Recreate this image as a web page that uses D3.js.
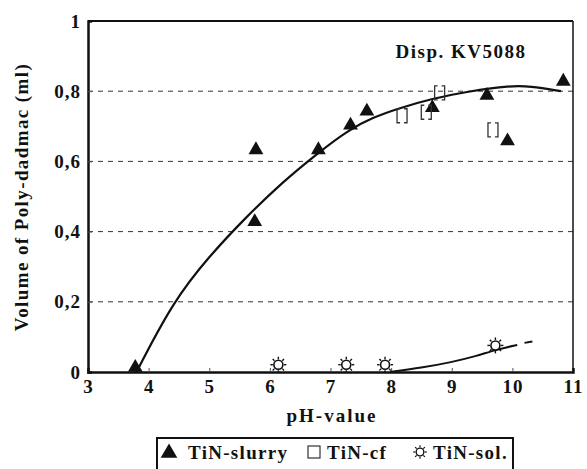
<!DOCTYPE html>
<html>
<head>
<meta charset="utf-8">
<script src="https://cdn.jsdelivr.net/npm/d3@7"></script>
<style>
  body { margin: 0; background: #fff; }
  text { font-family: "Liberation Serif", "Times New Roman", serif; font-weight: bold; fill: #111; }
</style>
</head>
<body>
<div id="chart"></div>
<script>
const width = 587, height = 469;
const margin = { top: 21, right: 14, bottom: 97, left: 88 };

// TiN-slurry (triangles)
const slurryPH  = [3.78, 5.77, 5.75, 6.8, 7.33, 7.6, 8.68, 9.58, 9.92, 10.84];
const slurryVol = [0.01, 0.63, 0.425, 0.63, 0.70, 0.74, 0.75, 0.785, 0.655, 0.825];
// TiN-cf (open squares)
const cfPH  = [8.18, 8.58, 8.8, 9.68];
const cfVol = [0.73, 0.74, 0.795, 0.69];
// TiN-sol. (sun symbols)
const solPH  = [6.14, 7.26, 7.9, 9.72];
const solVol = [0.015, 0.015, 0.015, 0.07];
// trend lines
const fitPH  = [3.8, 4.4, 5.0, 5.6, 6.2, 6.8, 7.3, 7.7, 8.1, 8.7, 9.3, 9.9, 10.3, 10.8];
const fitVol = [0.0, 0.2, 0.33, 0.44, 0.54, 0.625, 0.69, 0.725, 0.75, 0.78, 0.80, 0.815, 0.815, 0.80];
const solFitPH  = [7.98, 8.5, 9.0, 9.4, 9.72, 10.08];
const solFitVol = [0.0, 0.012, 0.028, 0.045, 0.063, 0.077];
const solDashPH  = [10.2, 10.33];
const solDashVol = [0.083, 0.087];

const xTicks = [3, 4, 5, 6, 7, 8, 9, 10, 11];
const yTicks = [0, 0.2, 0.4, 0.6, 0.8, 1];
const gridTicks = [0.2, 0.4, 0.6, 0.8];

const fmt = d => d3.format("")(d).replace(".", ",");

const svg = d3.select("#chart").append("svg")
  .attr("width", width).attr("height", height);

const x = d3.scaleLinear().domain([3, 11]).range([margin.left, width - margin.right]);
const y = d3.scaleLinear().domain([0, 1]).range([height - margin.bottom, margin.top]);

// dashed grid
svg.selectAll(".grid").data(gridTicks).join("line")
  .attr("x1", x(3)).attr("x2", x(11))
  .attr("y1", d => y(d)).attr("y2", d => y(d))
  .attr("stroke", "#333").attr("stroke-width", 1)
  .attr("stroke-dasharray", "5,5");

// frame
svg.append("line").attr("x1", x(3)).attr("x2", x(11)).attr("y1", y(1)).attr("y2", y(1))
  .attr("stroke", "#111").attr("stroke-width", 2);
svg.append("line").attr("x1", x(11)).attr("x2", x(11)).attr("y1", y(1)).attr("y2", y(0))
  .attr("stroke", "#111").attr("stroke-width", 1.5);

// axes
const xAxis = svg.append("g").attr("transform", `translate(0,${y(0)})`)
  .call(d3.axisBottom(x).tickValues(xTicks).tickSize(-4).tickPadding(8).tickFormat(d3.format("d")));
const yAxis = svg.append("g").attr("transform", `translate(${x(3)},0)`)
  .call(d3.axisLeft(y).tickValues(yTicks).tickSize(-4).tickPadding(7).tickFormat(fmt));
[xAxis, yAxis].forEach(g => {
  g.select(".domain").attr("stroke", "#111").attr("stroke-width", 2.5);
  g.selectAll(".tick line").attr("stroke", "#555");
  g.selectAll("text").attr("font-size", 19).attr("letter-spacing", 1)
    .attr("font-family", "Liberation Serif").attr("font-weight", "bold").attr("fill", "#111");
});
xAxis.selectAll(".tick").filter(d => d === 3 || d === 11).select("line").remove();
yAxis.selectAll(".tick").filter(d => d === 0 || d === 1).select("line").remove();

// trend lines
const line = d3.line().x(d => x(d[0])).y(d => y(d[1])).curve(d3.curveBasis);
svg.append("path").datum(d3.zip(fitPH, fitVol)).attr("d", line)
  .attr("fill", "none").attr("stroke", "#111").attr("stroke-width", 2.2);
svg.append("path").datum(d3.zip(solFitPH, solFitVol)).attr("d", line)
  .attr("fill", "none").attr("stroke", "#111").attr("stroke-width", 2);
svg.append("path").datum(d3.zip(solDashPH, solDashVol)).attr("d", line)
  .attr("fill", "none").attr("stroke", "#111").attr("stroke-width", 2);

// symbols
const tri = d3.symbol().type(d3.symbolTriangle).size(95);
svg.selectAll(".slurry").data(d3.zip(slurryPH, slurryVol)).join("path")
  .attr("class", "slurry")
  .attr("d", tri)
  .attr("transform", d => `translate(${x(d[0])},${y(d[1]) - 1})`)
  .attr("fill", "#111");

const bracket = "M-2,-7 H-5 V7 H-2 M2,-7 H5 V7 H2";
svg.selectAll(".cf").data(d3.zip(cfPH, cfVol)).join("path")
  .attr("class", "cf")
  .attr("d", bracket)
  .attr("transform", d => `translate(${x(d[0])},${y(d[1])})`)
  .attr("fill", "none").attr("stroke", "#333").attr("stroke-width", 1.3);

function sun(g) {
  g.append("circle").attr("r", 4.5).attr("fill", "#fff").attr("stroke", "#111").attr("stroke-width", 1.6);
  g.selectAll("line").data(d3.range(8)).join("line")
    .attr("x1", a => 5.5 * Math.cos(a * Math.PI / 4)).attr("y1", a => 5.5 * Math.sin(a * Math.PI / 4))
    .attr("x2", a => 8 * Math.cos(a * Math.PI / 4)).attr("y2", a => 8 * Math.sin(a * Math.PI / 4))
    .attr("stroke", "#111").attr("stroke-width", 1.4);
}
svg.selectAll(".sol").data(d3.zip(solPH, solVol)).join("g")
  .attr("class", "sol")
  .attr("transform", d => `translate(${x(d[0])},${y(d[1]) - 2})`)
  .each(function() { sun(d3.select(this)); });

// titles
svg.append("text").attr("x", 461).attr("y", 58).attr("text-anchor", "middle")
  .attr("font-size", 19).attr("letter-spacing", 1.5).text("Disp. KV5088");
svg.append("text").attr("x", 332).attr("y", 422).attr("text-anchor", "middle")
  .attr("font-size", 19).attr("letter-spacing", 2).text("pH-value");
svg.append("text").attr("transform", "translate(28,197) rotate(-90)").attr("text-anchor", "middle")
  .attr("font-size", 19).attr("letter-spacing", 1.4).text("Volume of Poly-dadmac (ml)");

// legend
const lg = svg.append("g");
lg.append("rect").attr("x", 157).attr("y", 438).attr("width", 356).attr("height", 40)
  .attr("fill", "#fff").attr("stroke", "#111").attr("stroke-width", 2);
lg.append("path").attr("d", tri.size(120)()).attr("transform", "translate(169,453)").attr("fill", "#111");
lg.append("text").attr("x", 188).attr("y", 459).attr("font-size", 19).attr("letter-spacing", 1.3).text("TiN-slurry");
lg.append("rect").attr("x", 308).attr("y", 446).attr("width", 12).attr("height", 12)
  .attr("fill", "none").attr("stroke", "#333").attr("stroke-width", 1.2);
lg.append("text").attr("x", 327).attr("y", 459).attr("font-size", 19).attr("letter-spacing", 1.3).text("TiN-cf");
const ls = lg.append("g").attr("transform", "translate(420,452) scale(0.85)");
sun(ls);
lg.append("text").attr("x", 433).attr("y", 459).attr("font-size", 19).attr("letter-spacing", 1.3).text("TiN-sol.");
</script>
</body>
</html>
